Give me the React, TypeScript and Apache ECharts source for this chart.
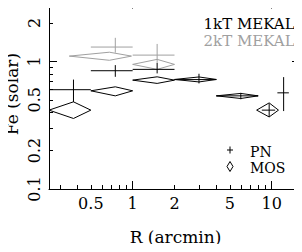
import React, { useEffect, useRef } from "react";
import * as echarts from "echarts";

// ---- data (R in arcmin, Fe in solar units) ----
// each point: [R, Rlo, Rhi, Fe, FeLo, FeHi]
const pn1kT: number[][] = [
  [0.375, 0.25, 0.5, 0.6, 0.48, 0.72],
  [0.75, 0.5, 1.0, 0.845, 0.757, 0.935],
  [1.5, 1.0, 2.0, 0.866, 0.805, 0.97],
  [3.0, 2.0, 4.0, 0.72, 0.672, 0.8],
  [6.0, 4.0, 8.0, 0.537, 0.505, 0.567],
  [9.6, 8.5, 10.6, 0.415, 0.367, 0.468],
  [12.2, 11.0, 13.3, 0.567, 0.408, 0.753],
];
const mos1kT: number[][] = [
  [0.375, 0.25, 0.5, 0.415, 0.357, 0.482],
  [0.75, 0.5, 1.0, 0.588, 0.537, 0.632],
  [1.5, 1.0, 2.0, 0.713, 0.672, 0.757],
  [3.0, 2.0, 4.0, 0.722, 0.69, 0.755],
  [6.0, 4.0, 8.0, 0.537, 0.512, 0.561],
  [9.6, 7.8, 11.2, 0.415, 0.367, 0.473],
];
const pn2kT: number[][] = [
  [0.75, 0.5, 1.0, 1.295, 1.17, 1.53],
  [1.5, 1.0, 2.0, 1.12, 0.965, 1.37],
];
const mos2kT: number[][] = [
  [0.68, 0.35, 0.98, 1.1, 1.02, 1.18],
  [1.5, 1.0, 2.0, 0.947, 0.866, 1.037],
];

const xRange = [0.25, 16];
const yRange = [0.1, 3];
const xTickLabels = [0.5, 1, 2, 5, 10];
const yTickLabels = [0.1, 0.2, 0.5, 1, 2];
const xMajorTicks = [1, 10];
const xMinorTicks = [0.3, 0.4, 0.5, 0.6, 0.7, 0.8, 0.9, 2, 3, 4, 5, 6, 7, 8, 9];
const yMajorTicks = [1];
const yMinorTicks = [0.2, 0.3, 0.4, 0.5, 0.6, 0.7, 0.8, 0.9, 2, 3];

const xTitle = "R (arcmin)";
const yTitle = "Fe (solar)";
const legendModels = ["1kT MEKAL", "2kT MEKAL"];
const legendInstruments = ["PN", "MOS"];

const BLACK = "#000000";
const GRAY = "#a0a0a0";
const FONT = "DejaVu Serif";

const lg = (v: number) => Math.log10(v);
const toLog = (rows: number[][]) => rows.map((r) => r.map(lg));

const fmt = (v: number) => String(parseFloat(Math.pow(10, v).toPrecision(2)));

function makeX(position: "bottom" | "top", major: boolean, labels: boolean) {
  return {
    type: "value",
    position,
    min: lg(xRange[0]),
    max: lg(xRange[1]),
    axisLine: { show: major, onZero: false, lineStyle: { color: BLACK, width: 1 } },
    axisTick: {
      show: true,
      inside: true,
      length: major ? 8 : 4,
      customValues: (major ? xMajorTicks : xMinorTicks).map(lg),
      lineStyle: { color: BLACK, width: 1 },
    },
    axisLabel: labels
      ? {
          show: true,
          customValues: xTickLabels.map(lg),
          formatter: fmt,
          margin: 6,
          fontFamily: FONT,
          fontSize: 16,
          color: BLACK,
        }
      : { show: false },
    splitLine: { show: false },
  };
}

function makeY(position: "left" | "right", major: boolean, labels: boolean) {
  return {
    type: "value",
    position,
    min: lg(yRange[0]),
    max: lg(yRange[1]),
    axisLine: { show: major, onZero: false, lineStyle: { color: BLACK, width: 1 } },
    axisTick: {
      show: true,
      inside: true,
      length: major ? 8 : 4,
      customValues: (major ? yMajorTicks : yMinorTicks).map(lg),
      lineStyle: { color: BLACK, width: 1 },
    },
    axisLabel: labels
      ? {
          show: true,
          customValues: yTickLabels.map(lg),
          formatter: fmt,
          rotate: 90,
          margin: 7,
          fontFamily: FONT,
          fontSize: 16,
          color: BLACK,
        }
      : { show: false },
    splitLine: { show: false },
  };
}

function crossSeries(rows: number[][], color: string) {
  return {
    type: "custom",
    xAxisIndex: 0,
    yAxisIndex: 0,
    clip: true,
    data: toLog(rows),
    encode: { x: [0, 1, 2], y: [3, 4, 5] },
    renderItem: (params: any, api: any) => {
      const x = api.value(0), xlo = api.value(1), xhi = api.value(2);
      const y = api.value(3), ylo = api.value(4), yhi = api.value(5);
      const l = api.coord([xlo, y]);
      const r = api.coord([xhi, y]);
      const t = api.coord([x, yhi]);
      const b = api.coord([x, ylo]);
      return {
        type: "group",
        children: [
          { type: "line", shape: { x1: l[0], y1: l[1], x2: r[0], y2: r[1] }, style: { stroke: color, lineWidth: 1 } },
          { type: "line", shape: { x1: t[0], y1: t[1], x2: b[0], y2: b[1] }, style: { stroke: color, lineWidth: 1 } },
        ],
      };
    },
  };
}

function diamondSeries(rows: number[][], color: string) {
  return {
    type: "custom",
    xAxisIndex: 0,
    yAxisIndex: 0,
    clip: true,
    data: toLog(rows),
    encode: { x: [0, 1, 2], y: [3, 4, 5] },
    renderItem: (params: any, api: any) => {
      const x = api.value(0), xlo = api.value(1), xhi = api.value(2);
      const y = api.value(3), ylo = api.value(4), yhi = api.value(5);
      const l = api.coord([xlo, y]);
      const r = api.coord([xhi, y]);
      const t = api.coord([x, yhi]);
      const b = api.coord([x, ylo]);
      return {
        type: "polygon",
        shape: { points: [l, t, r, b] },
        style: { fill: "none", stroke: color, lineWidth: 1 },
      };
    },
  };
}

function txt(text: string, x: number, y: number, color: string, size: number, align: string, rotation = 0) {
  return {
    type: "text",
    x,
    y,
    rotation,
    z: 1,
    style: {
      text,
      fill: color,
      font: `${size}px "${FONT}"`,
      fontFamily: FONT,
      fontSize: size,
      lineHeight: size,
      align,
      textAlign: align,
      verticalAlign: "middle",
      textVerticalAlign: "middle",
    },
  };
}

export default function App() {
  const ref = useRef<HTMLDivElement>(null);
  useEffect(() => {
    if (!ref.current) return;
    const chart = echarts.init(ref.current, undefined, { renderer: "svg" });
    chart.setOption({
      animation: false,
      backgroundColor: "#ffffff",
      grid: { left: 49, right: 2, top: 0.5, bottom: 63, containLabel: false, outerBoundsMode: "none" },
      xAxis: [makeX("bottom", true, true), makeX("bottom", false, false), makeX("top", true, false), makeX("top", false, false)],
      yAxis: [makeY("left", true, true), makeY("left", false, false), makeY("right", true, false), makeY("right", false, false)],
      series: [
        diamondSeries(mos2kT, GRAY),
        crossSeries(pn2kT, GRAY),
        diamondSeries(mos1kT, BLACK),
        crossSeries(pn1kT, BLACK),
      ],
      graphic: [
        txt(xTitle, 175.5, 237, BLACK, 17, "center"),
        txt(yTitle, 12, 94, BLACK, 17, "center", Math.PI / 2),
        txt(legendModels[0], 203.5, 24, BLACK, 15, "left"),
        txt(legendModels[1], 203.5, 41, GRAY, 15, "left"),
        { type: "line", shape: { x1: 227, y1: 150, x2: 233, y2: 150 }, style: { stroke: BLACK, lineWidth: 1 } },
        { type: "line", shape: { x1: 230, y1: 146.5, x2: 230, y2: 153.5 }, style: { stroke: BLACK, lineWidth: 1 } },
        {
          type: "polygon",
          shape: { points: [[227, 166.5], [230, 161.5], [233, 166.5], [230, 171.5]] },
          style: { fill: "none", stroke: BLACK, lineWidth: 1 },
        },
        txt(legendInstruments[0], 250, 151.5, BLACK, 14, "left"),
        txt(legendInstruments[1], 250, 167.5, BLACK, 14, "left"),
      ],
    });
    return () => chart.dispose();
  }, []);
  return <div ref={ref} style={{ width: 302, height: 252, margin: "-8px" }} />;
}
